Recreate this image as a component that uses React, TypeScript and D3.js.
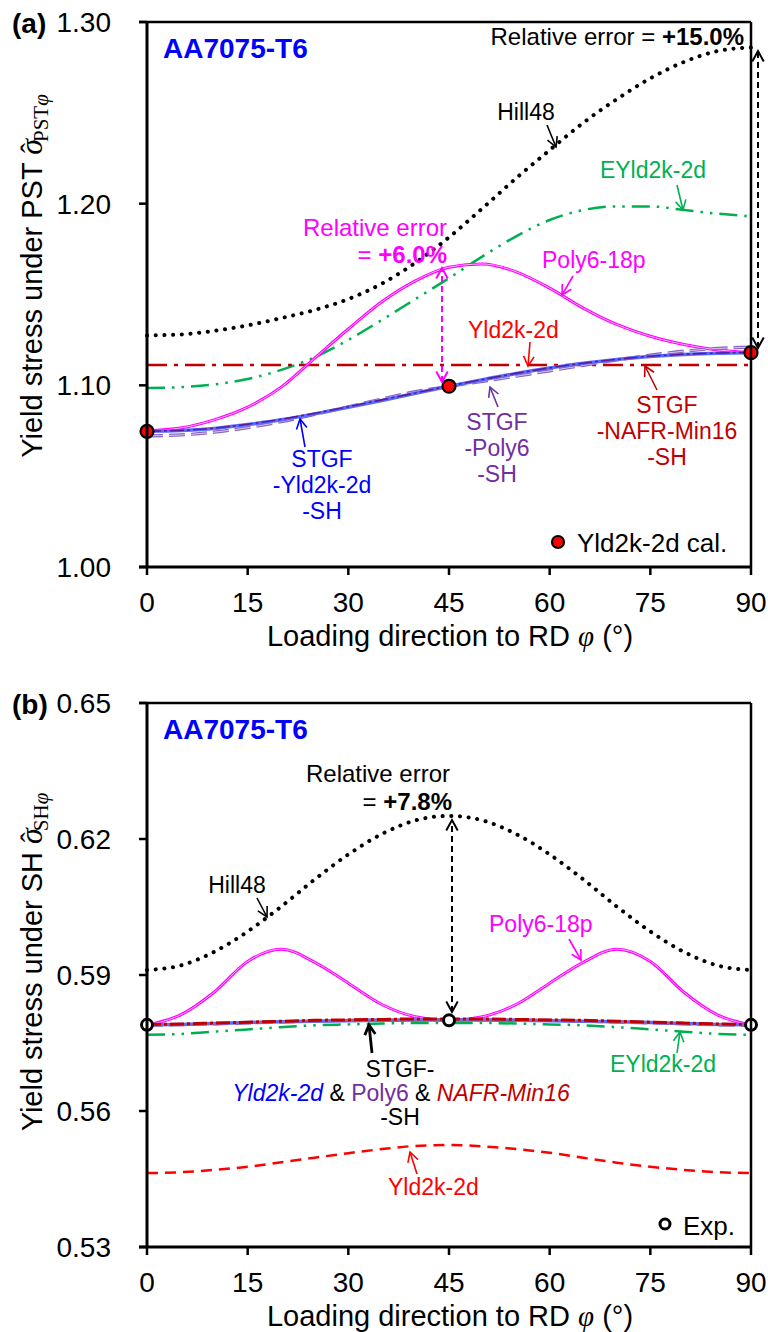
import React from "react";
import * as d3 from "d3";

// ---------------- DATA ----------------
const PHI = [0, 5, 10, 15, 20, 25, 30, 35, 40, 45, 50, 55, 60, 65, 70, 75, 80, 85, 90];
const X_TICKS = [0, 15, 30, 45, 60, 75, 90];

// Panel (a): yield stress under PST
const A_Y_TICKS = [1.0, 1.1, 1.2, 1.3];
const A_Y_TICK_LABELS = ["1.00", "1.10", "1.20", "1.30"];
const A_HILL48 = [1.1275, 1.128, 1.13, 1.133, 1.137, 1.1415, 1.1475, 1.156, 1.1675, 1.1815, 1.1975, 1.214, 1.2295, 1.2445, 1.2575, 1.269, 1.278, 1.284, 1.286];
const A_EYLD2K = [1.0985, 1.099, 1.1005, 1.1035, 1.1085, 1.1155, 1.125, 1.136, 1.1475, 1.159, 1.171, 1.182, 1.191, 1.1965, 1.1985, 1.1985, 1.1965, 1.1945, 1.193];
const A_POLY6 = [1.075, 1.0765, 1.081, 1.088, 1.099, 1.115, 1.131, 1.146, 1.1575, 1.165, 1.1668, 1.1625, 1.1535, 1.1425, 1.1335, 1.127, 1.1225, 1.1195, 1.118];
const A_YLD2K_PHI = [0, 90];
const A_YLD2K = [1.1112, 1.1112];
const A_STGF_YLD = [1.0747, 1.0751, 1.0763, 1.0784, 1.081, 1.0843, 1.0879, 1.0917, 1.0956, 1.0995, 1.1031, 1.1065, 1.1095, 1.1121, 1.1142, 1.1159, 1.117, 1.1177, 1.118];
const A_STGF_POLY6 = [1.0722, 1.0727, 1.0742, 1.0767, 1.08, 1.084, 1.0882, 1.0925, 1.0965, 1.0995, 1.1022, 1.105, 1.108, 1.111, 1.114, 1.1166, 1.1188, 1.1203, 1.121];
const A_STGF_NAFR = [1.0748, 1.0752, 1.0764, 1.0786, 1.0813, 1.0846, 1.0882, 1.092, 1.0958, 1.0996, 1.1032, 1.1066, 1.1096, 1.1122, 1.1143, 1.116, 1.1171, 1.1178, 1.1181];
const A_CAL_PHI = [0, 45, 90];
const A_CAL = [1.0747, 1.0995, 1.118];

// Panel (b): yield stress under SH
const B_Y_TICKS = [0.53, 0.56, 0.59, 0.62, 0.65];
const B_Y_TICK_LABELS = ["0.53", "0.56", "0.59", "0.62", "0.65"];
const B_HILL48 = [0.5911, 0.5921, 0.5951, 0.5996, 0.6051, 0.6111, 0.6166, 0.6211, 0.6241, 0.6251, 0.6241, 0.6211, 0.6166, 0.6111, 0.6051, 0.5996, 0.5951, 0.5921, 0.5911];
const B_POLY6 = [0.579, 0.5812, 0.5862, 0.593, 0.5957, 0.5928, 0.5882, 0.5835, 0.5808, 0.58, 0.5808, 0.5835, 0.5882, 0.5928, 0.5957, 0.593, 0.5862, 0.5812, 0.579];
const B_EYLD2K = [0.5768, 0.577, 0.5775, 0.578, 0.5785, 0.5789, 0.5791, 0.5793, 0.5794, 0.5794, 0.5794, 0.5793, 0.5791, 0.5789, 0.5785, 0.578, 0.5775, 0.577, 0.5768];
const B_YLD2K = [0.5463, 0.5465, 0.547, 0.5477, 0.5487, 0.5497, 0.5507, 0.5516, 0.5523, 0.5525, 0.5522, 0.5516, 0.5508, 0.5497, 0.5486, 0.5477, 0.547, 0.5465, 0.5463];
const B_STGF_YLD = [0.579, 0.5791, 0.5793, 0.5795, 0.5797, 0.5798, 0.5799, 0.58, 0.5801, 0.5801, 0.5801, 0.58, 0.5799, 0.5798, 0.5797, 0.5795, 0.5793, 0.5791, 0.579];
const B_STGF_POLY6 = [0.5789, 0.579, 0.5792, 0.5794, 0.5796, 0.5798, 0.58, 0.5801, 0.5801, 0.5801, 0.5801, 0.5801, 0.58, 0.5798, 0.5796, 0.5794, 0.5792, 0.579, 0.5789];
const B_STGF_NAFR = [0.5791, 0.5792, 0.5794, 0.5796, 0.5798, 0.58, 0.5801, 0.5802, 0.5803, 0.5803, 0.5803, 0.5802, 0.5801, 0.58, 0.5798, 0.5796, 0.5794, 0.5792, 0.5791];
const B_EXP_PHI = [0, 45, 90];
const B_EXP = [0.579, 0.58, 0.579];

// ---------------- STYLE ----------------
const SANS = "'Liberation Sans', Arial, sans-serif";
const SERIF = "'Liberation Serif', 'Times New Roman', serif";
const C_BLUE = "#0000ff";
const C_MAG = "#ff00ff";
const C_GREEN = "#00b050";
const C_RED = "#ff0000";
const C_DRED = "#c00000";
const C_PURPLE = "#7030a0";

const W = 768;
const H = 1332;
const X0 = 147;
const X1 = 751;
const A_TOP = 22;
const A_BOT = 567;
const B_TOP = 703;
const B_BOT = 1247;

const xScale = d3.scaleLinear().domain([0, 90]).range([X0, X1]);
const yA = d3.scaleLinear().domain([1.0, 1.3]).range([A_BOT, A_TOP]);
const yB = d3.scaleLinear().domain([0.53, 0.65]).range([B_BOT, B_TOP]);

function path(xs: number[], ys: number[], y: d3.ScaleLinear<number, number>) {
  const pts = xs.map((x, i) => [x, ys[i]] as [number, number]);
  return (
    d3
      .line<[number, number]>()
      .x((d) => xScale(d[0]))
      .y((d) => y(d[1]))
      .curve(d3.curveMonotoneX)(pts) || ""
  );
}

function head(x1: number, y1: number, x2: number, y2: number, len: number) {
  const a = Math.atan2(y2 - y1, x2 - x1);
  const s = 0.5;
  const p1 = [x2 - len * Math.cos(a - s), y2 - len * Math.sin(a - s)];
  const p2 = [x2 - len * Math.cos(a + s), y2 - len * Math.sin(a + s)];
  return `M${p1[0]},${p1[1]}L${x2},${y2}L${p2[0]},${p2[1]}`;
}

function Arrow({ x1, y1, x2, y2, color, w = 1.6, len = 11, dash, both = false }: any) {
  return (
    <g stroke={color} fill="none" strokeWidth={w}>
      <line x1={x1} y1={y1} x2={x2} y2={y2} strokeDasharray={dash} />
      <path d={head(x1, y1, x2, y2, len)} />
      {both && <path d={head(x2, y2, x1, y1, len)} />}
    </g>
  );
}

function Frame({ top, bot, y, ticks, labels, tag }: any) {
  return (
    <g>
      <line x1={X0 - 8} y1={top} x2={X1} y2={top} stroke="#000" strokeWidth={2.5} />
      <line x1={X1} y1={top} x2={X1} y2={bot} stroke="#000" strokeWidth={2.5} />
      <line x1={X0} y1={top} x2={X0} y2={bot} stroke="#000" strokeWidth={3} />
      <line x1={X0 - 8} y1={bot} x2={X1} y2={bot} stroke="#000" strokeWidth={3} />
      {ticks.map((t: number, i: number) => (
        <g key={"y" + i}>
          <line x1={X0 - 8} x2={X0} y1={y(t)} y2={y(t)} stroke="#000" strokeWidth={2.5} />
          <text x={111} y={y(t)} dy="0.36em" textAnchor="end" fontFamily={SANS} fontSize={28}>
            {labels[i]}
          </text>
        </g>
      ))}
      {X_TICKS.map((t, i) => (
        <g key={"x" + i}>
          <line x1={xScale(t)} x2={xScale(t)} y1={bot} y2={bot + 8} stroke="#000" strokeWidth={2.5} />
          <text x={xScale(t)} y={bot + 45} textAnchor="middle" fontFamily={SANS} fontSize={28}>
            {t}
          </text>
        </g>
      ))}
      <text x={450} y={bot + 79} textAnchor="middle" fontFamily={SANS} fontSize={29}>
        Loading direction to RD{" "}
        <tspan fontFamily={SERIF} fontStyle="italic">φ</tspan> (°)
      </text>
      <text x={12} y={top + 11} fontFamily={SANS} fontSize={28} fontWeight="bold">
        {tag}
      </text>
      <text x={163} y={top + 36} fontFamily={SANS} fontSize={28} fontWeight="bold" fill={C_BLUE}>
        AA7075-T6
      </text>
    </g>
  );
}

function YLabel({ cy, mode }: any) {
  return (
    <text transform={`translate(42,${cy}) rotate(-90)`} textAnchor="middle" fontFamily={SANS} fontSize={29} style={{ whiteSpace: "pre" }}>
      {`Yield stress under ${mode} `}
      <tspan fontFamily={SERIF} fontStyle="italic" fontSize={32}>σ</tspan>
      <tspan fontFamily={SERIF} fontSize={30} dx={-14} dy={-1}>ˆ</tspan>
      <tspan fontFamily={SERIF} fontSize={21} dx={1} dy={7}>{mode}</tspan>
      <tspan fontFamily={SERIF} fontStyle="italic" fontSize={21}>φ</tspan>
    </text>
  );
}

function Label({ x, y, lines, color, anchor = "middle", size = 23, lh = 26 }: any) {
  return (
    <text x={x} y={y} textAnchor={anchor} fontFamily={SANS} fontSize={size} fill={color}>
      {lines.map((l: string, i: number) => (
        <tspan key={i} x={x} dy={i === 0 ? 0 : lh}>
          {l}
        </tspan>
      ))}
    </text>
  );
}

export default function App() {
  return (
    <div style={{ position: "absolute", left: 0, top: 0 }}>
      <svg width={W} height={H} viewBox={`0 0 ${W} ${H}`} style={{ display: "block", background: "#fff" }}>
        <rect width={W} height={H} fill="#fff" />

        {/* ============ PANEL (a) ============ */}
        <YLabel cy={276} mode="PST" />
        <path d={path(PHI, A_HILL48, yA)} fill="none" stroke="#000" strokeWidth={4} strokeDasharray="0.1 8.6" strokeLinecap="round" />
        <path d={path(PHI, A_EYLD2K, yA)} fill="none" stroke={C_GREEN} strokeWidth={2.5} strokeDasharray="18 7 2.5 7 2.5 7" />
        <path d={path(A_YLD2K_PHI, A_YLD2K, yA)} fill="none" stroke={C_DRED} strokeWidth={2.5} strokeDasharray="20 7 4 7" />
        <path d={path(PHI, A_POLY6, yA)} fill="none" stroke={C_MAG} strokeWidth={3} />
        <path d={path(PHI, A_POLY6, yA)} fill="none" stroke="#ffb0ff" strokeWidth={1} />
        <path d={path(PHI, A_STGF_POLY6, yA)} fill="none" stroke="#8a63c0" strokeWidth={3.2} strokeDasharray="16 6" />
        <path d={path(PHI, A_STGF_POLY6, yA)} fill="none" stroke="#d8c8ee" strokeWidth={1} strokeDasharray="16 6" />
        <path d={path(PHI, A_STGF_YLD, yA)} fill="none" stroke="#5a6cff" strokeWidth={3.5} />
        <path d={path(PHI, A_STGF_NAFR, yA)} fill="none" stroke="#5a1a9a" strokeWidth={1.6} strokeDasharray="14 3 3 3" />
        {A_CAL_PHI.map((p, i) => (
          <circle key={i} cx={xScale(p)} cy={yA(A_CAL[i])} r={6.5} fill={C_RED} stroke="#000" strokeWidth={2.2} />
        ))}

        {/* annotations (a) */}
        <text x={744} y={45} textAnchor="end" fontFamily={SANS} fontSize={24}>
          Relative error = <tspan fontWeight="bold">+15.0%</tspan>
        </text>
        <Arrow x1={758} y1={348} x2={758} y2={51} color="#000" w={2} len={12} dash="6 4" both />
        <Label x={526} y={120} lines={["Hill48"]} color="#000" />
        <Arrow x1={547} y1={125} x2={556} y2={147} color="#000" />
        <Label x={653} y={178} lines={["EYld2k-2d"]} color={C_GREEN} />
        <Arrow x1={677} y1={185} x2={683} y2={210} color={C_GREEN} />
        <text x={447} y={236} textAnchor="end" fontFamily={SANS} fontSize={24} fill={C_MAG}>
          Relative error
        </text>
        <text x={447} y={263} textAnchor="end" fontFamily={SANS} fontSize={24} fill={C_MAG}>
          = <tspan fontWeight="bold">+6.0%</tspan>
        </text>
        <Arrow x1={442} y1={382} x2={442} y2={268} color={C_MAG} w={2} len={12} dash="6 4" both />
        <Label x={542} y={268} lines={["Poly6-18p"]} color={C_MAG} anchor="start" />
        <Arrow x1={573} y1={276} x2={562} y2={295} color={C_MAG} />
        <Label x={468} y={338} lines={["Yld2k-2d"]} color={C_RED} anchor="start" />
        <Arrow x1={530} y1={342} x2={528} y2={366} color={C_RED} />
        <Label x={322} y={467} lines={["STGF", "-Yld2k-2d", "-SH"]} color={C_BLUE} />
        <Arrow x1={305} y1={447} x2={300} y2={419} color={C_BLUE} />
        <Label x={497} y={430} lines={["STGF", "-Poly6", "-SH"]} color={C_PURPLE} />
        <Arrow x1={498} y1={407} x2={490} y2={387} color={C_PURPLE} />
        <Label x={667} y={413} lines={["STGF", "-NAFR-Min16", "-SH"]} color={C_DRED} />
        <Arrow x1={657} y1={390} x2={645} y2={366} color={C_DRED} />
        <circle cx={558} cy={542} r={6} fill={C_RED} stroke="#000" strokeWidth={2.2} />
        <text x={577} y={552} fontFamily={SANS} fontSize={26}>Yld2k-2d cal.</text>

        <Frame top={A_TOP} bot={A_BOT} y={yA} ticks={A_Y_TICKS} labels={A_Y_TICK_LABELS} tag="(a)" />

        {/* ============ PANEL (b) ============ */}
        <YLabel cy={962} mode="SH" />
        <path d={path(PHI, B_HILL48, yB)} fill="none" stroke="#000" strokeWidth={4} strokeDasharray="0.1 8.6" strokeLinecap="round" />
        <path d={path(PHI, B_YLD2K, yB)} fill="none" stroke={C_RED} strokeWidth={2.5} strokeDasharray="11 7" />
        <path d={path(PHI, B_POLY6, yB)} fill="none" stroke={C_MAG} strokeWidth={3} />
        <path d={path(PHI, B_POLY6, yB)} fill="none" stroke="#ffb0ff" strokeWidth={1} />
        <path d={path(PHI, B_EYLD2K, yB)} fill="none" stroke={C_GREEN} strokeWidth={2.5} strokeDasharray="18 7 2.5 7 2.5 7" />
        <path d={path(PHI, B_STGF_YLD, yB)} fill="none" stroke="#5a6cff" strokeWidth={3.5} />
        <path d={path(PHI, B_STGF_POLY6, yB)} fill="none" stroke="#8a63c0" strokeWidth={3} strokeDasharray="16 6" />
        <path d={path(PHI, B_STGF_NAFR, yB)} fill="none" stroke={C_DRED} strokeWidth={3} strokeDasharray="14 3 3 3" />
        {B_EXP_PHI.map((p, i) => (
          <circle key={i} cx={xScale(p)} cy={yB(B_EXP[i])} r={5.5} fill="#fff" stroke="#000" strokeWidth={3} />
        ))}

        {/* annotations (b) */}
        <text x={450} y={782} textAnchor="end" fontFamily={SANS} fontSize={24}>Relative error</text>
        <text x={452} y={810} textAnchor="end" fontFamily={SANS} fontSize={24}>
          = <tspan fontWeight="bold">+7.8%</tspan>
        </text>
        <Arrow x1={452} y1={1012} x2={452} y2={820} color="#000" w={2} len={12} dash="6 4" both />
        <Label x={237} y={893} lines={["Hill48"]} color="#000" />
        <Arrow x1={257} y1={898} x2={267} y2={917} color="#000" />
        <Label x={489} y={932} lines={["Poly6-18p"]} color={C_MAG} anchor="start" />
        <Arrow x1={569} y1={939} x2={581} y2={960} color={C_MAG} />
        <Label x={400} y={1077} lines={["STGF-"]} color="#000" />
        <Arrow x1={372} y1={1053} x2={369} y2={1025} color="#000" w={2.8} len={11} />
        <text x={401} y={1101} textAnchor="middle" fontFamily={SANS} fontSize={23} style={{ whiteSpace: "pre" }}>
          <tspan fill={C_BLUE} fontStyle="italic">Yld2k-2d</tspan>
          <tspan fill="#000">{" & "}</tspan>
          <tspan fill={C_PURPLE}>Poly6</tspan>
          <tspan fill="#000">{" & "}</tspan>
          <tspan fill={C_DRED} fontStyle="italic">NAFR-Min16</tspan>
        </text>
        <Label x={400} y={1125} lines={["-SH"]} color="#000" />
        <Label x={610} y={1072} lines={["EYld2k-2d"]} color={C_GREEN} anchor="start" />
        <Arrow x1={677} y1={1053} x2={680} y2={1032} color={C_GREEN} />
        <Label x={388} y={1195} lines={["Yld2k-2d"]} color={C_RED} anchor="start" />
        <Arrow x1={417} y1={1174} x2={410} y2={1152} color={C_RED} />
        <circle cx={665} cy={1224} r={5} fill="#fff" stroke="#000" strokeWidth={3} />
        <text x={683} y={1235} fontFamily={SANS} fontSize={26}>Exp.</text>

        <Frame top={B_TOP} bot={B_BOT} y={yB} ticks={B_Y_TICKS} labels={B_Y_TICK_LABELS} tag="(b)" />
      </svg>
    </div>
  );
}
